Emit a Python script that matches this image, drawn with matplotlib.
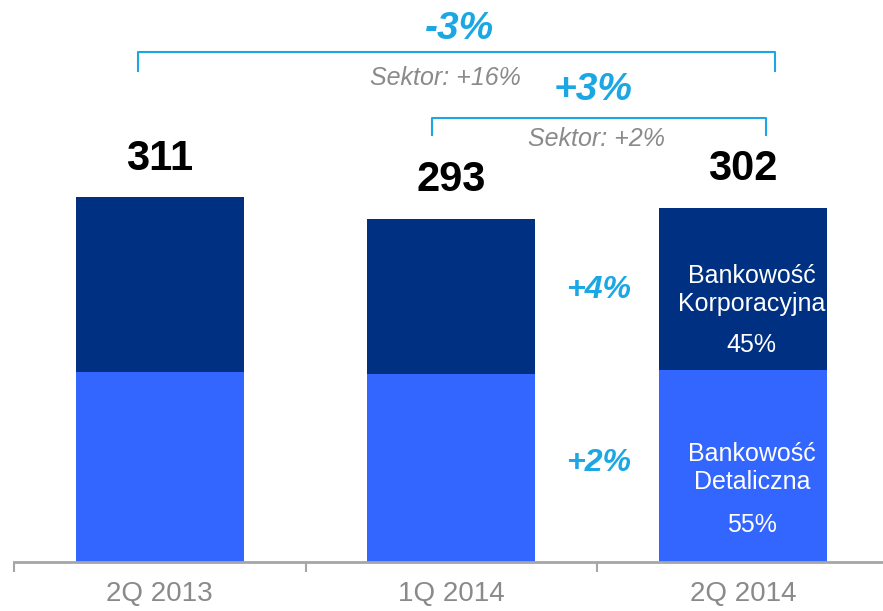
import matplotlib.pyplot as plt

plt.rcParams['font.family'] = ['Liberation Sans', 'DejaVu Sans']

categories = ['2Q 2013', '1Q 2014', '2Q 2014']
retail = [162, 160, 164]
corporate = [149, 133, 138]
totals = [r + c for r, c in zip(retail, corporate)]

NAVY = '#003082'
BLUE = '#3366FF'
CYAN = '#1AA7E4'
GRAY = '#8A8A8A'

fig = plt.figure(figsize=(8.83, 6.11), dpi=100)
ax = fig.add_axes([14 / 883, 49 / 611, 1 - 14 / 883, 551 / 611])

x = range(len(categories))
ax.bar(x, retail, width=0.576, color=BLUE)
ax.bar(x, corporate, width=0.576, bottom=retail, color=NAVY)

ax.set_xlim(-0.5, 2.48)
ax.set_ylim(0, 470)

for s in ['top', 'right', 'left']:
    ax.spines[s].set_visible(False)
ax.spines['bottom'].set_color('#A6A6A6')
ax.spines['bottom'].set_linewidth(2)
ax.set_yticks([])
ax.set_xticks(list(x))
ax.set_xticklabels(categories, fontsize=20, color=GRAY)
ax.tick_params(axis='x', which='major', length=0, pad=14)
ax.set_xticks([-0.5, 0.5, 1.5], minor=True)
ax.tick_params(axis='x', which='minor', length=7, width=1.5, color='#A6A6A6')

# totals above bars
for i, t in enumerate(totals):
    ax.text(i, t + 33, str(t), ha='center', va='center',
            fontsize=30, fontweight='bold', color='black')

# brackets
def bracket(x0, x1, y, drop):
    ax.plot([x0, x0, x1, x1], [y - drop, y, y, y - drop], color=CYAN,
            lw=1.5, clip_on=False, solid_joinstyle='round')

bracket(-0.075, 2.11, 435, 16)
bracket(0.933, 2.079, 379, 15)

ax.text(1.029, 455, '-3%', ha='center', va='center', fontsize=28,
        fontweight='bold', fontstyle='italic', color=CYAN)
ax.text(0.978, 413, 'Sektor: +16%', ha='center', va='center', fontsize=18,
        fontstyle='italic', color=GRAY)
ax.text(1.485, 403, '+3%', ha='center', va='center', fontsize=28,
        fontweight='bold', fontstyle='italic', color=CYAN)
ax.text(1.499, 361, 'Sektor: +2%', ha='center', va='center', fontsize=18,
        fontstyle='italic', color=GRAY)

# segment growth
ax.text(1.506, 232, '+4%', ha='center', va='center', fontsize=23,
        fontweight='bold', fontstyle='italic', color=CYAN)
ax.text(1.506, 84.5, '+2%', ha='center', va='center', fontsize=23,
        fontweight='bold', fontstyle='italic', color=CYAN)

# labels inside last bar
share_corp = round(corporate[2] / totals[2] * 100 / 5) * 5
share_ret = 100 - share_corp
ax.text(2.03, 232, 'Bankowość\nKorporacyjna', ha='center', va='center',
        fontsize=18, color='white', linespacing=1.2)
ax.text(2.03, 185, '%d%%' % share_corp, ha='center', va='center',
        fontsize=18, color='white')
ax.text(2.03, 80, 'Bankowość\nDetaliczna', ha='center', va='center',
        fontsize=18, color='white', linespacing=1.2)
ax.text(2.03, 31.5, '%d%%' % share_ret, ha='center', va='center',
        fontsize=18, color='white')

fig.savefig('out.png', dpi=100)
